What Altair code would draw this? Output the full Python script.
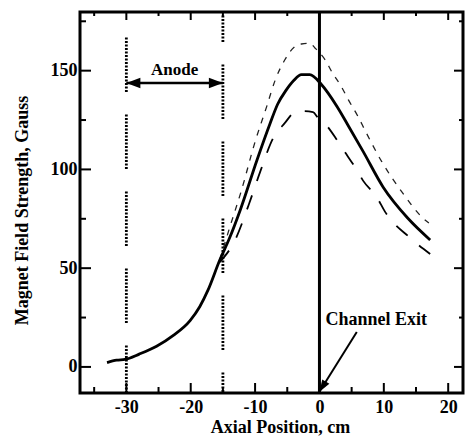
import altair as alt
import pandas as pd

# ---------------- data ----------------
solid_x = [-33.0, -31.5, -30.2, -28.0, -25.3, -22.7, -20.1, -18.6, -17.3, -15.5, -14.0, -12.3,
           -9.7, -7.7, -6.5, -5.2, -4.0, -2.8, -1.5, 0.3, 2.7, 4.5, 6.8, 9.9, 13.7, 17.2]
solid_y = [2.2, 3.4, 3.8, 6.5, 10.5, 16.0, 23.5, 30.5, 39.0, 54.0, 65.0, 79.5,
           104.8, 123.0, 133.0, 140.0, 145.0, 148.0, 148.0, 143.0, 132.0, 122.0, 109.0, 91.0, 75.4, 64.3]

upper_x = [-15.5, -14.0, -12.1, -10.0, -8.2, -6.9, -5.4, -3.8, -2.8, -1.5, -0.7, 0.9, 1.9,
           3.4, 4.5, 6.0, 7.2, 9.7, 12.8, 16.4, 17.0]
upper_y = [54.0, 70.0, 89.6, 114.0, 131.8, 145.0, 155.4, 162.2, 163.5, 163.9, 161.5, 155.4, 149.5,
           141.9, 135.2, 126.7, 119.0, 103.8, 88.6, 74.4, 72.9]

lower_x = [-15.5, -13.1, -11.0, -9.2, -7.2, -5.4, -3.8, -2.5, -1.0, -0.2, 0.6, 2.7, 3.6,
           5.8, 6.8, 8.9, 10.2, 14.1, 17.2]
lower_y = [53.0, 64.3, 82.0, 98.9, 115.8, 123.4, 129.0, 129.5, 129.0, 126.0, 124.0, 115.0, 110.5,
           99.7, 94.2, 86.0, 78.5, 65.3, 57.2]

x_major = [-30, -20, -10, 0, 10, 20]
x_minor = [-35, -25, -15, -5, 5, 15]
y_major = [0, 50, 100, 150]
y_minor = [25, 75, 125, 175]

anode_start = [-30]
anode_end = [-15]
anode_arrow_y = [143.8]
anode_label = ["Anode"]
anode_label_y = [148.0]
anode_line_a_top = [167.0]
anode_line_b_top = [178.0]

exit_x = [0]
exit_label = ["Channel Exit"]
exit_label_y = [21.0]
exit_arrow_from = [5.8, 17.7]
exit_arrow_to = [0.0, -12.6]

# ---------------- layout ----------------
W, H = 383, 381
XDOM = [-37.2, 22.3]
YDOM = [-13.2, 179.7]
FONT = "Liberation Serif"

xscale = alt.Scale(domain=XDOM, nice=False, zero=False)
yscale = alt.Scale(domain=YDOM, nice=False, zero=False)

common_axis = dict(
    grid=False, domain=False, ticks=False, tickSize=0,
    labelFont=FONT, labelFontSize=18, labelFontWeight="bold", labelColor="black",
    labelOverlap=False, labelFlush=False,
    titleFont=FONT, titleFontSize=18, titleFontWeight="bold", titleColor="black",
)
xaxis = alt.Axis(values=x_major, labelExpr="toString(datum.value)", title="Axial Position, cm",
                 labelPadding=5, titleX=200, titleY=39, titleAlign="center",
                 titleBaseline="alphabetic", **common_axis)
yaxis = alt.Axis(values=y_major, labelExpr="toString(datum.value)",
                 title="Magnet Field Strength, Gauss",
                 labelPadding=3, titleX=-53, titleY=198, titleAngle=270, titleAlign="center",
                 titleBaseline="alphabetic", **common_axis)


def X(f):
    return alt.X(f, type="quantitative", scale=xscale, axis=xaxis)


def Y(f):
    return alt.Y(f, type="quantitative", scale=yscale, axis=yaxis)


# ---------------- tables ----------------
df_xmaj = pd.DataFrame({"v": x_major})
df_xmin = pd.DataFrame({"v": x_minor})
df_ymaj = pd.DataFrame({"v": y_major})
df_ymin = pd.DataFrame({"v": y_minor})

df_solid = pd.DataFrame({"x": solid_x, "y": solid_y})
df_upper = pd.DataFrame({"x": upper_x, "y": upper_y})
df_lower = pd.DataFrame({"x": lower_x, "y": lower_y})

df_lineA = pd.DataFrame({"x": anode_start, "y0": [YDOM[0]], "y1": anode_line_a_top})
df_lineB = pd.DataFrame({"x": anode_end, "y0": [YDOM[0]], "y1": anode_line_b_top})
df_anode = pd.DataFrame({"x0": anode_start, "x1": anode_end, "y": anode_arrow_y})
df_anode_lbl = pd.DataFrame({"x": [(anode_start[0] + anode_end[0]) / 2], "y": anode_label_y,
                             "t": anode_label})
df_exit = pd.DataFrame({"x": exit_x})
df_exit_lbl = pd.DataFrame({"x": exit_x, "y": exit_label_y, "t": exit_label})
df_exit_arrow = pd.DataFrame({"x0": [exit_arrow_from[0]], "y0": [exit_arrow_from[1]],
                              "x1": [exit_arrow_to[0]], "y1": [exit_arrow_to[1]]})

# ---------------- layers ----------------
layers = []

# inward ticks on all four sides
for df, ln in ((df_xmaj, 10), (df_xmin, 6)):
    layers.append(alt.Chart(df).mark_rule(color="black", strokeWidth=2).encode(
        x=X("v"), y=alt.value(H), y2=alt.value(H - ln)))
    layers.append(alt.Chart(df).mark_rule(color="black", strokeWidth=2).encode(
        x=X("v"), y=alt.value(0), y2=alt.value(ln - 2)))
for df, ln in ((df_ymaj, 11), (df_ymin, 6)):
    layers.append(alt.Chart(df).mark_rule(color="black", strokeWidth=2).encode(
        y=Y("v"), x=alt.value(0), x2=alt.value(ln)))
    layers.append(alt.Chart(df).mark_rule(color="black", strokeWidth=2).encode(
        y=Y("v"), x=alt.value(W), x2=alt.value(W - ln + 2)))

# dotted anode boundary lines
dots = [2, 1.5] * 16
dots[-1] = 22.5
layers.append(alt.Chart(df_lineA).mark_rule(color="black", strokeWidth=2.8, strokeDash=dots,
                                            strokeDashOffset=7).encode(
    x=X("x"), y=Y("y0"), y2="y1"))
layers.append(alt.Chart(df_lineB).mark_rule(color="black", strokeWidth=2.8, strokeDash=dots,
                                            strokeDashOffset=34).encode(
    x=X("x"), y=Y("y0"), y2="y1"))

# channel exit vertical line
layers.append(alt.Chart(df_exit).mark_rule(color="black", strokeWidth=3).encode(x=X("x")))

# curves
layers.append(alt.Chart(df_upper).mark_line(color="#222", strokeWidth=1.3, strokeDash=[6, 7],
                                            interpolate="monotone").encode(
    x=X("x"), y=Y("y")))
layers.append(alt.Chart(df_lower).mark_line(color="black", strokeWidth=1.8, strokeDash=[15, 15],
                                            interpolate="monotone").encode(
    x=X("x"), y=Y("y")))
layers.append(alt.Chart(df_solid).mark_line(color="black", strokeWidth=2.8, strokeJoin="round",
                                            interpolate="monotone").encode(
    x=X("x"), y=Y("y")))

# anode double arrow
layers.append(alt.Chart(df_anode).mark_rule(color="black", strokeWidth=2.5).encode(
    x=X("x0"), x2="x1", y=Y("y")))
layers.append(alt.Chart(df_anode).mark_point(shape="M 0 0 L 2 -0.75 L 2 0.75 Z", size=196,
                                             filled=True, color="black", opacity=1).encode(
    x=X("x0"), y=Y("y")))
layers.append(alt.Chart(df_anode).mark_point(shape="M 0 0 L -2 -0.75 L -2 0.75 Z", size=196,
                                             filled=True, color="black", opacity=1).encode(
    x=X("x1"), y=Y("y")))

# channel exit arrow
layers.append(alt.Chart(df_exit_arrow).mark_rule(color="black", strokeWidth=2).encode(
    x=X("x0"), x2="x1", y=Y("y0"), y2="y1"))
layers.append(alt.Chart(df_exit_arrow).mark_point(shape="M 0 0 L -0.7 -2 L 0.7 -2 Z", size=144,
                                                  angle=32, filled=True, color="black",
                                                  opacity=1).encode(
    x=X("x1"), y=Y("y1")))

# text labels
layers.append(alt.Chart(df_anode_lbl).mark_text(font=FONT, fontSize=17, fontWeight="bold",
                                                color="black", align="center",
                                                baseline="alphabetic").encode(
    x=X("x"), y=Y("y"), text="t"))
layers.append(alt.Chart(df_exit_lbl).mark_text(font=FONT, fontSize=18, fontWeight="bold",
                                               color="black", align="left", baseline="alphabetic",
                                               dx=6).encode(
    x=X("x"), y=Y("y"), text="t"))

chart = alt.layer(*layers).properties(
    width=W, height=H,
    padding={"left": 80, "top": 12, "right": 2, "bottom": 51},
    autosize=alt.AutoSizeParams(type="none"),
    background="white",
).configure_view(stroke="black", strokeWidth=3)

chart.save("out.html", embed_options={"renderer": "svg", "actions": False})
